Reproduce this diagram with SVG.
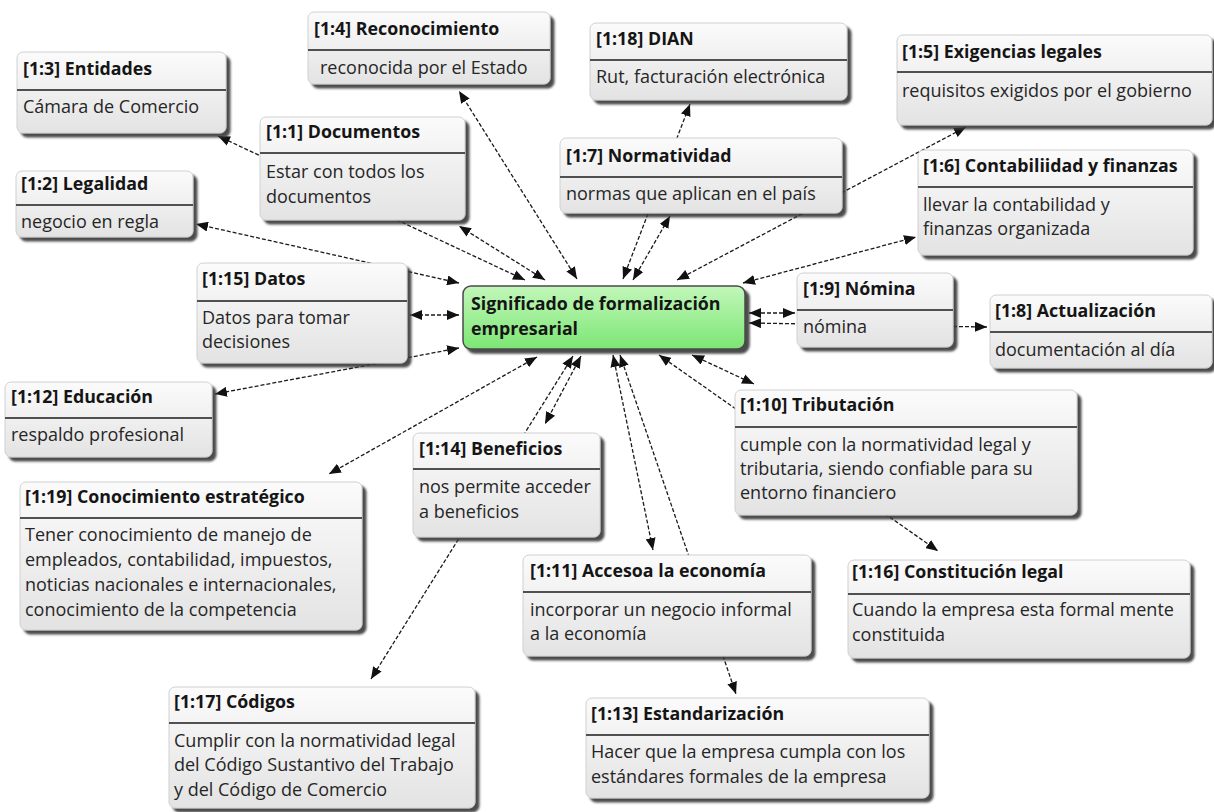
<svg xmlns="http://www.w3.org/2000/svg" width="1214" height="812" viewBox="0 0 1214 812">
<style>
.box{fill:url(#g);stroke:#d0d0d0;stroke-width:1;filter:url(#sh)}
.sep{stroke:#505050;stroke-width:2}
.t{font-family:"Open Sans","Noto Sans",sans-serif;font-size:17.8px;font-weight:bold;fill:#151515}
.b{font-family:"Open Sans","Noto Sans",sans-serif;font-size:18px;fill:#262626}
.c{stroke:#1a1a1a;stroke-width:1.3;stroke-dasharray:4 2;fill:none;marker-start:url(#a);marker-end:url(#a)}
</style>
<defs>
<linearGradient id="g" x1="0" y1="0" x2="0" y2="1"><stop offset="0" stop-color="#fbfbfb"/><stop offset="1" stop-color="#e3e3e3"/></linearGradient>
<linearGradient id="gg" x1="0" y1="0" x2="0" y2="1"><stop offset="0" stop-color="#c2f7ba"/><stop offset="1" stop-color="#7ce674"/></linearGradient>
<filter id="sh" x="-10%" y="-10%" width="130%" height="140%"><feDropShadow dx="4" dy="4" stdDeviation="1.2" flood-color="#383838" flood-opacity="0.9"/></filter>
<marker id="a" viewBox="0 0 12 10" refX="12" refY="5" markerWidth="12" markerHeight="10" markerUnits="userSpaceOnUse" orient="auto-start-reverse"><path d="M0,0 L12,5 L0,10 z" fill="#111"/></marker>
</defs>
<g id="connectors">
<line class="c" x1="525" y1="280" x2="218" y2="136"/>
<line class="c" x1="545" y1="280" x2="459" y2="226"/>
<line class="c" x1="577" y1="279" x2="459" y2="91"/>
<line class="c" x1="623" y1="279" x2="690" y2="104"/>
<line class="c" x1="633" y1="280" x2="670" y2="216"/>
<line class="c" x1="677" y1="280" x2="966" y2="127"/>
<line class="c" x1="743" y1="283" x2="916" y2="237"/>
<line class="c" x1="749" y1="313" x2="795" y2="313"/>
<line class="c" x1="749" y1="323" x2="987" y2="327"/>
<line class="c" x1="692" y1="355" x2="754" y2="384"/>
<line class="c" x1="659" y1="355" x2="938" y2="551"/>
<line class="c" x1="613" y1="355" x2="653" y2="550"/>
<line class="c" x1="620" y1="355" x2="736" y2="694"/>
<line class="c" x1="581" y1="356" x2="545" y2="424"/>
<line class="c" x1="573" y1="356" x2="371" y2="679"/>
<line class="c" x1="537" y1="357" x2="329" y2="474"/>
<line class="c" x1="459" y1="348" x2="215" y2="394"/>
<line class="c" x1="459" y1="315" x2="410" y2="315"/>
<line class="c" x1="459" y1="283" x2="196" y2="224"/>
</g>
<g id="n1_3"><rect class="box" x="17" y="52" width="209" height="81" rx="6"/><line class="sep" x1="17" y1="90" x2="226" y2="90"/><text class="t" x="23" y="75">[1:3] Entidades</text><text class="b" x="23" y="113">Cámara de Comercio</text></g>
<g id="n1_2"><rect class="box" x="16" y="171" width="177" height="66" rx="6"/><line class="sep" x1="16" y1="205" x2="193" y2="205"/><text class="t" x="21" y="190">[1:2] Legalidad</text><text class="b" x="21" y="228">negocio en regla</text></g>
<g id="n1_4"><rect class="box" x="308" y="12" width="242" height="72" rx="6"/><line class="sep" x1="308" y1="50" x2="550" y2="50"/><text class="t" x="314" y="35">[1:4] Reconocimiento</text><text class="b" x="320" y="74">reconocida por el Estado</text></g>
<g id="n1_1"><rect class="box" x="260" y="117" width="205" height="103" rx="6"/><line class="sep" x1="260" y1="153" x2="465" y2="153"/><text class="t" x="266" y="138">[1:1] Documentos</text><text class="b" x="266" y="178">Estar con todos los</text><text class="b" x="266" y="203">documentos</text></g>
<g id="n1_18"><rect class="box" x="590" y="23" width="257" height="77" rx="6"/><line class="sep" x1="590" y1="60" x2="847" y2="60"/><text class="t" x="596" y="45">[1:18] DIAN</text><text class="b" x="596" y="83">Rut, facturación electrónica</text></g>
<g id="n1_7"><rect class="box" x="560" y="138" width="282" height="75" rx="6"/><line class="sep" x1="560" y1="177" x2="842" y2="177"/><text class="t" x="566" y="162">[1:7] Normatividad</text><text class="b" x="566" y="200">normas que aplican en el país</text></g>
<g id="n1_5"><rect class="box" x="897" y="35" width="315" height="90" rx="6"/><line class="sep" x1="897" y1="72" x2="1212" y2="72"/><text class="t" x="902" y="58">[1:5] Exigencias legales</text><text class="b" x="902" y="97">requisitos exigidos por el gobierno</text></g>
<g id="n1_6"><rect class="box" x="918" y="150" width="275" height="105" rx="6"/><line class="sep" x1="918" y1="187" x2="1193" y2="187"/><text class="t" x="923" y="172">[1:6] Contabiliidad y finanzas</text><text class="b" x="923" y="211">llevar la contabilidad y</text><text class="b" x="923" y="235">finanzas organizada</text></g>
<g id="n1_15"><rect class="box" x="197" y="263" width="210" height="100" rx="6"/><line class="sep" x1="197" y1="301" x2="407" y2="301"/><text class="t" x="202" y="285">[1:15] Datos</text><text class="b" x="202" y="324">Datos para tomar</text><text class="b" x="202" y="348">decisiones</text></g>
<g id="n1_12"><rect class="box" x="5" y="382" width="207" height="75" rx="6"/><line class="sep" x1="5" y1="418" x2="212" y2="418"/><text class="t" x="11" y="403">[1:12] Educación</text><text class="b" x="11" y="441">respaldo profesional</text></g>
<g id="n1_19"><rect class="box" x="20" y="482" width="342" height="148" rx="6"/><line class="sep" x1="20" y1="518" x2="362" y2="518"/><text class="t" x="25" y="503">[1:19] Conocimiento estratégico</text><text class="b" x="25" y="541">Tener conocimiento de manejo de</text><text class="b" x="25" y="566">empleados, contabilidad, impuestos,</text><text class="b" x="25" y="591">noticias nacionales e internacionales,</text><text class="b" x="25" y="616">conocimiento de la competencia</text></g>
<g id="center"><rect x="463" y="286" width="282" height="63" rx="8" fill="url(#gg)" stroke="#4a4a4a" stroke-width="1.5" filter="url(#sh)"/><text class="t" x="471" y="310">Significado de formalización</text><text class="t" x="471" y="335">empresarial</text></g>
<g id="n1_9"><rect class="box" x="797" y="273" width="156" height="74" rx="6"/><line class="sep" x1="797" y1="310" x2="953" y2="310"/><text class="t" x="803" y="295">[1:9] Nómina</text><text class="b" x="803" y="333">nómina</text></g>
<g id="n1_8"><rect class="box" x="990" y="295" width="222" height="73" rx="6"/><line class="sep" x1="990" y1="332" x2="1212" y2="332"/><text class="t" x="995" y="317">[1:8] Actualización</text><text class="b" x="995" y="356">documentación al día</text></g>
<g id="n1_10"><rect class="box" x="735" y="390" width="342" height="125" rx="6"/><line class="sep" x1="735" y1="427" x2="1077" y2="427"/><text class="t" x="740" y="411">[1:10] Tributación</text><text class="b" x="740" y="451">cumple con la normatividad legal y</text><text class="b" x="740" y="475">tributaria, siendo confiable para su</text><text class="b" x="740" y="499">entorno financiero</text></g>
<g id="n1_14"><rect class="box" x="413" y="433" width="187" height="104" rx="6"/><line class="sep" x1="413" y1="469" x2="600" y2="469"/><text class="t" x="419" y="455">[1:14] Beneficios</text><text class="b" x="419" y="493">nos permite acceder</text><text class="b" x="419" y="518">a beneficios</text></g>
<g id="n1_11"><rect class="box" x="523" y="555" width="288" height="101" rx="6"/><line class="sep" x1="523" y1="592" x2="811" y2="592"/><text class="t" x="530" y="577">[1:11] Accesoa la economía</text><text class="b" x="530" y="616">incorporar un negocio informal</text><text class="b" x="530" y="640">a la economía</text></g>
<g id="n1_16"><rect class="box" x="848" y="560" width="342" height="98" rx="6"/><line class="sep" x1="848" y1="594" x2="1190" y2="594"/><text class="t" x="852" y="578">[1:16] Constitución legal</text><text class="b" x="852" y="616">Cuando la empresa esta formal mente</text><text class="b" x="852" y="641">constituida</text></g>
<g id="n1_13"><rect class="box" x="586" y="698" width="343" height="100" rx="6"/><line class="sep" x1="586" y1="735" x2="929" y2="735"/><text class="t" x="591" y="720">[1:13] Estandarización</text><text class="b" x="591" y="758">Hacer que la empresa cumpla con los</text><text class="b" x="591" y="783">estándares formales de la empresa</text></g>
<g id="n1_17"><rect class="box" x="169" y="687" width="306" height="121" rx="6"/><line class="sep" x1="169" y1="723" x2="475" y2="723"/><text class="t" x="174" y="708">[1:17] Códigos</text><text class="b" x="174" y="747">Cumplir con la normatividad legal</text><text class="b" x="174" y="771">del Código Sustantivo del Trabajo</text><text class="b" x="174" y="796">y del Código de Comercio</text></g>
</svg>
